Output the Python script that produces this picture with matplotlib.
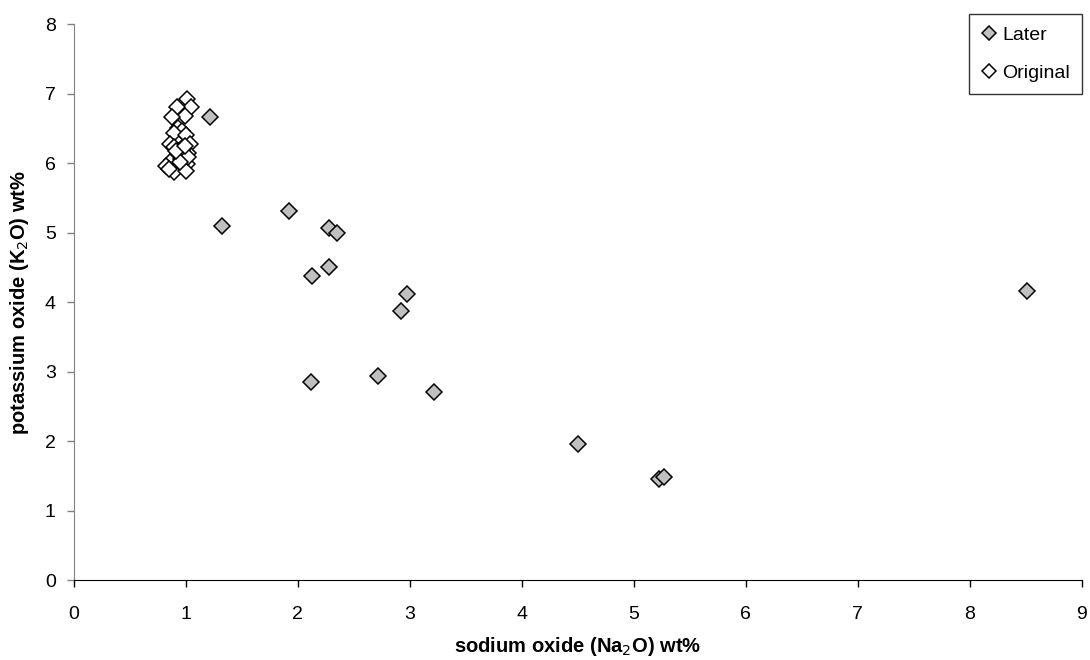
import matplotlib.pyplot as plt

plt.rcParams['font.family'] = ['Liberation Sans', 'DejaVu Sans']

# sodium oxide (x) and potassium oxide (y), wt%
later_na2o = [1.22, 1.32, 1.92, 2.28, 2.35, 2.13, 2.28, 2.98, 2.92, 2.12, 2.72, 3.22, 4.50, 5.23, 5.27, 8.51]
later_k2o = [6.66, 5.10, 5.31, 5.07, 5.00, 4.37, 4.51, 4.12, 3.87, 2.85, 2.94, 2.70, 1.96, 1.46, 1.48, 4.16]

orig_na2o = [1.01, 1.05, 0.92, 0.99, 0.88, 0.93, 0.97, 0.90, 1.00, 1.04, 0.86, 0.90,
             0.95, 0.99, 0.97, 0.92, 1.01, 0.88, 0.82, 0.90, 1.00, 0.85, 0.96, 1.02,
             0.94, 0.98, 1.00, 0.96, 0.93, 0.97, 1.02, 0.95, 0.91, 0.99]
orig_k2o = [6.92, 6.80, 6.80, 6.67, 6.66, 6.51, 6.46, 6.43, 6.40, 6.28, 6.28, 6.23,
            6.16, 6.12, 6.14, 6.09, 5.99, 6.04, 5.95, 5.87, 5.88, 5.91, 6.20, 6.15,
            6.18, 6.22, 6.10, 6.06, 6.13, 6.19, 6.08, 6.02, 6.17, 6.25]

fig = plt.figure(figsize=(10.9, 6.6), dpi=100)
ax = fig.add_axes([0.0676, 0.1212, 0.9248, 0.8424])

ax.plot(later_na2o, later_k2o, 'D', ms=8, mfc='#c0c0c0', mec='black', mew=1.1, label='Later')
ax.plot(orig_na2o, orig_k2o, 'D', ms=8, mfc='white', mec='black', mew=1.1, label='Original')

ax.set_xlim(0, 9)
ax.set_ylim(0, 8)
ax.set_xticks(range(10))
ax.set_yticks(range(9))
ax.spines['top'].set_visible(False)
ax.spines['right'].set_visible(False)
ax.spines['left'].set_color('#808080')
ax.spines['bottom'].set_color('black')
ax.tick_params(axis='x', direction='out', length=5, width=1, pad=14, labelsize=14, colors='black')
ax.tick_params(axis='y', direction='out', length=5, width=1, pad=8, labelsize=14, color='#808080', labelcolor='black')

ax.set_xlabel('sodium oxide (Na$_2$O) wt%', fontsize=14.5, fontweight='bold', labelpad=8)
ax.set_ylabel('potassium oxide (K$_2$O) wt%', fontsize=14.5, fontweight='bold', labelpad=10)

leg = ax.legend(loc='upper right', bbox_to_anchor=(1.0, 1.018), borderaxespad=0, fontsize=14,
                frameon=True, fancybox=False, edgecolor='black', handlelength=0.8,
                handletextpad=0.27, labelspacing=1.05, borderpad=0.62, markerscale=0.85)
leg.get_frame().set_linewidth(1.0)

plt.savefig('out.png', dpi=100)
